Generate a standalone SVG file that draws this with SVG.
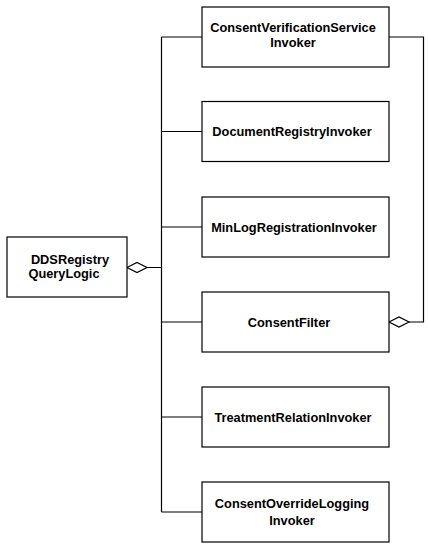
<svg xmlns="http://www.w3.org/2000/svg" width="428" height="551" viewBox="0 0 428 551">
<style>
.box{fill:#fff;stroke:#000;stroke-width:1.2}
.t{font-family:"Liberation Sans",Arial,sans-serif;font-weight:bold;font-size:12.8px;fill:#000;text-anchor:middle}
.c{fill:none;stroke:#000;stroke-width:1.2}
.d{fill:#fff;stroke:#000;stroke-width:1.2}
</style>
<rect width="428" height="551" fill="#fff"/>
<g id="connectors">
<path class="c" d="M147 267.5H161.5M161.5 37V512M161.5 37H202M161.5 131.5H202M161.5 227H202M161.5 322H202M161.5 417H202M161.5 512H202"/>
<path class="d" d="M127 267.5L137 262.5L147 267.5L137 272.5Z"/>
<path class="c" d="M389 37H423.5V322H409"/>
<path class="d" d="M389 322L399 317L409 322L399 327Z"/>
</g>
<g id="DDSRegistryQueryLogic">
<rect class="box" x="7" y="237" width="120" height="60"/>
<text class="t" x="70" y="264">DDSRegistry</text>
<text class="t" x="64" y="278">QueryLogic</text>
</g>
<g id="ConsentVerificationServiceInvoker">
<rect class="box" x="202" y="7" width="187" height="60"/>
<text class="t" x="293" y="32">ConsentVerificationService</text>
<text class="t" x="293" y="47">Invoker</text>
</g>
<g id="DocumentRegistryInvoker">
<rect class="box" x="202" y="101.5" width="187" height="60"/>
<text class="t" x="292" y="136">DocumentRegistryInvoker</text>
</g>
<g id="MinLogRegistrationInvoker">
<rect class="box" x="202" y="197" width="187" height="60"/>
<text class="t" x="294" y="231.5">MinLogRegistrationInvoker</text>
</g>
<g id="ConsentFilter">
<rect class="box" x="202" y="292" width="187" height="60"/>
<text class="t" x="289" y="326.5">ConsentFilter</text>
</g>
<g id="TreatmentRelationInvoker">
<rect class="box" x="202" y="387" width="187" height="60"/>
<text class="t" x="293" y="421.5">TreatmentRelationInvoker</text>
</g>
<g id="ConsentOverrideLoggingInvoker">
<rect class="box" x="202" y="482" width="187" height="60"/>
<text class="t" x="292" y="508">ConsentOverrideLogging</text>
<text class="t" x="292" y="525">Invoker</text>
</g>
</svg>
